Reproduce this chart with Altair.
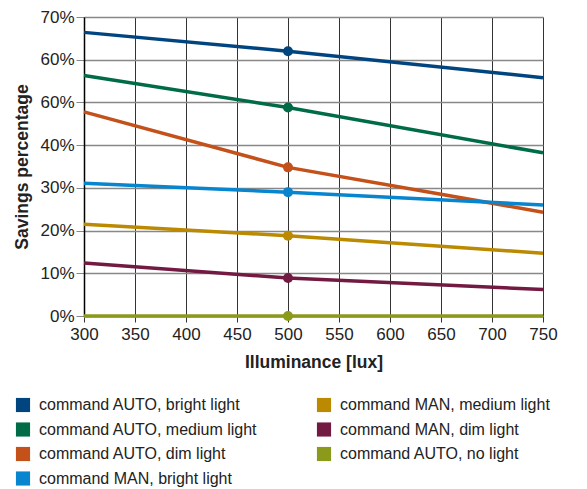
import altair as alt
import pandas as pd

lux = [300, 500, 750]
series_names = [
    "command AUTO, bright light",
    "command AUTO, medium light",
    "command AUTO, dim light",
    "command MAN, bright light",
    "command MAN, medium light",
    "command MAN, dim light",
    "command AUTO, no light",
]
values = {
    "command AUTO, bright light": [66.4, 62.0, 55.8],
    "command AUTO, medium light": [56.3, 48.8, 38.2],
    "command AUTO, dim light": [47.8, 34.8, 24.3],
    "command MAN, bright light": [31.1, 29.0, 26.0],
    "command MAN, medium light": [21.5, 18.8, 14.7],
    "command MAN, dim light": [12.4, 8.9, 6.2],
    "command AUTO, no light": [0.0, 0.0, 0.0],
}
colors = {
    "command AUTO, bright light": "#00457f",
    "command AUTO, medium light": "#006b47",
    "command AUTO, dim light": "#c4501a",
    "command MAN, bright light": "#0785cf",
    "command MAN, medium light": "#bb8a00",
    "command MAN, dim light": "#721a42",
    "command AUTO, no light": "#8c9a1c",
}

rows = []
for s in series_names:
    for x, v in zip(lux, values[s]):
        rows.append({"lux": x, "value": v, "series": s})
df = pd.DataFrame(rows)

FONT = "Liberation Sans"

color = alt.Color(
    "series:N",
    scale=alt.Scale(domain=series_names, range=[colors[s] for s in series_names]),
    legend=alt.Legend(
        title=None, orient="none", legendX=-69, legendY=380, columns=2,
        symbolType="square", symbolSize=200, symbolStrokeWidth=0,
        labelFontSize=16, labelFont=FONT, labelColor="#222", labelLimit=400,
        rowPadding=8.5, columnPadding=58, labelOffset=8,
    ),
)

x = alt.X(
    "lux:Q",
    scale=alt.Scale(domain=[300, 750], nice=False),
    axis=alt.Axis(
        title="Illuminance [lux]", values=list(range(300, 751, 50)),
        labelFontSize=17, labelFont=FONT, labelColor="#222", labelPadding=4,
        labelFlush=False,
        titleFontSize=17.5, titleFont=FONT, titleColor="#222", titleFontWeight="bold",
        titlePadding=11, grid=True, gridColor="#333", gridOpacity=1, gridWidth=1,
        tickColor="#333", tickSize=6, domain=True, domainColor="#888", domainWidth=1.5,
    ),
)
y = alt.Y(
    "value:Q",
    scale=alt.Scale(domain=[0, 70], nice=False),
    axis=alt.Axis(
        title="Savings percentage", values=list(range(0, 71, 10)),
        labelExpr="datum.value == 50 ? '60%' : datum.value + '%'",
        labelFontSize=17, labelFont=FONT, labelColor="#222", labelPadding=2,
        titleFontSize=17.5, titleFont=FONT, titleColor="#222", titleFontWeight="bold",
        titlePadding=8, grid=True, gridColor="#888", gridOpacity=1, gridWidth=1.5,
        tickColor="#888", tickSize=8, domain=True, domainColor="#000", domainWidth=1.5,
    ),
)

base = alt.Chart(df)
lines = base.mark_line(strokeWidth=3.5).encode(x=x, y=y, color=color)
points = base.transform_filter("datum.lux == 500").mark_circle(size=100, opacity=1).encode(
    x=x, y=y, color=color
)

chart = (
    alt.layer(lines, points)
    .properties(width=459, height=299)
    .configure_view(stroke="#888", strokeWidth=1)
    .configure(background="white", padding={"left": 5, "top": 0, "right": 5, "bottom": 0})
)

chart.save("out.html", embed_options={"renderer": "svg", "actions": False})
